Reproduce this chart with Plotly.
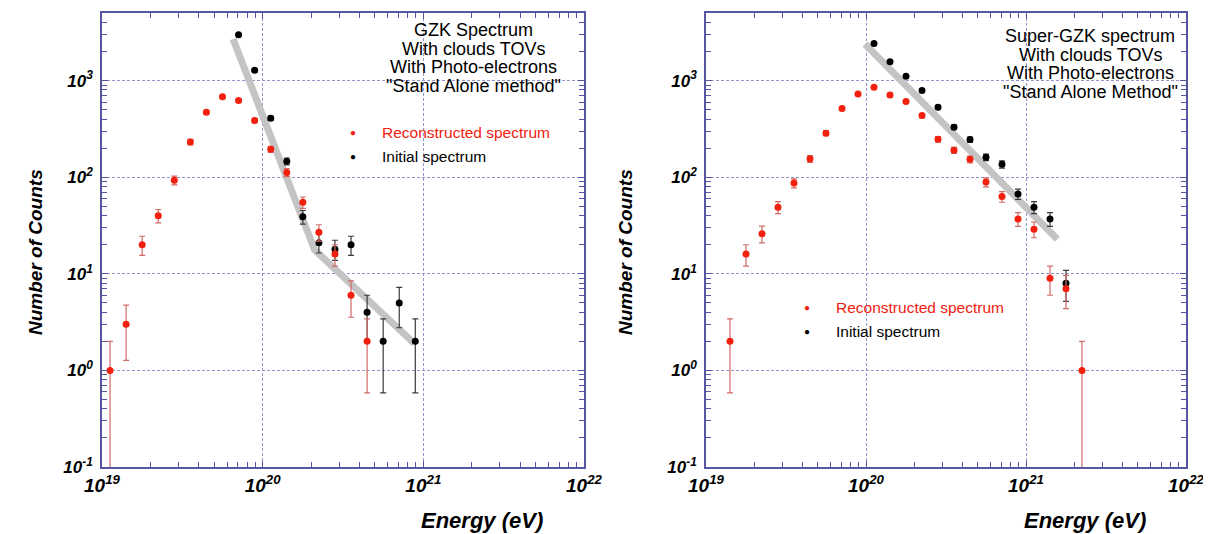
import numpy as np
import plotly.graph_objects as go

# ---------------- data ----------------
# left panel: GZK spectrum (log10 energy bin centres, counts)
gzk_rec_logE = [19.05, 19.15, 19.25, 19.35, 19.45, 19.55, 19.65, 19.75, 19.85,
                19.95, 20.05, 20.15, 20.25, 20.35, 20.45, 20.55, 20.65]
gzk_rec_N = [1, 3, 20, 40, 93, 231, 471, 680, 622, 387, 195, 112, 55, 27, 16, 6, 2]
gzk_ini_logE = [19.85, 19.95, 20.05, 20.15, 20.25, 20.35, 20.45, 20.55, 20.65,
                20.75, 20.85, 20.95]
gzk_ini_N = [2980, 1277, 408, 146, 39, 21, 18, 20, 4, 2, 5, 2]
gzk_fit_logE = [19.816, 20.323, 20.944]
gzk_fit_N = [2690, 17.7, 1.9]

# right panel: Super-GZK spectrum
sgzk_rec_logE = [19.15, 19.25, 19.35, 19.45, 19.55, 19.65, 19.75, 19.85, 19.95,
                 20.05, 20.15, 20.25, 20.35, 20.45, 20.55, 20.65, 20.75, 20.85,
                 20.95, 21.05, 21.15, 21.25, 21.35]
sgzk_rec_N = [2, 16, 26, 49, 87, 155, 286, 514, 728, 853, 711, 607, 435, 247,
              190, 153, 89, 63, 37, 29, 9, 7, 1]
sgzk_ini_logE = [20.05, 20.15, 20.25, 20.35, 20.45, 20.55, 20.65, 20.75, 20.85,
                 20.95, 21.05, 21.15, 21.25]
sgzk_ini_N = [2427, 1571, 1108, 789, 531, 330, 245, 161, 136, 67, 49, 37, 8]
sgzk_fit_logE = [19.994, 21.196]
sgzk_fit_N = [2390, 22.8]

x_tick_exp = [19, 20, 21, 22]
y_tick_exp = [-1, 0, 1, 2, 3]
minor_mult = [2, 3, 4, 5, 6, 7, 8, 9]

panel_titles = [
    ["GZK Spectrum", "With clouds TOVs", "With Photo-electrons", "\"Stand Alone method\""],
    ["Super-GZK spectrum", "With clouds TOVs", "With Photo-electrons", "\"Stand Alone Method\""],
]
legend_labels = ["Reconstructed spectrum", "Initial spectrum"]

# ---------------- styling ----------------
RED = "#f2200f"
RED_ERR = "#cf6a66"
BLACK = "#000000"
BLACK_ERR = "#3a3a3a"
AXIS = "#5656a0"
GRID = "#9494cc"
FIT = "#c4c4c4"
FONT = "Liberation Sans, Arial, Helvetica, sans-serif"

W, H = 1211, 534
OFF = 8  # page body margin of the html output


def px(xp):
    return (xp - OFF) / W


def py(yp):
    return 1 - (yp - OFF) / H


def pow10(vals):
    return [float(10.0 ** float(v)) for v in vals]


def minor_vals(exps):
    out = []
    for k in exps[:-1]:
        for m in minor_mult:
            out.append(float(m) * float(10.0 ** float(k)))
    return out


def errs(vals):
    v = np.asarray(vals, dtype=float)
    e = np.sqrt(v)
    em = np.minimum(e, v * 0.999)
    return e.tolist(), em.tolist()


fig = go.Figure()

panels = [
    dict(rec=(gzk_rec_logE, gzk_rec_N), ini=(gzk_ini_logE, gzk_ini_N),
         fit=(gzk_fit_logE, gzk_fit_N), xa="x", ya="y"),
    dict(rec=(sgzk_rec_logE, sgzk_rec_N), ini=(sgzk_ini_logE, sgzk_ini_N),
         fit=(sgzk_fit_logE, sgzk_fit_N), xa="x2", ya="y2"),
]

for p in panels:
    fx, fy = p["fit"]
    fig.add_trace(go.Scatter(x=pow10(fx), y=fy, mode="lines",
                             line=dict(color=FIT, width=7), xaxis=p["xa"], yaxis=p["ya"],
                             showlegend=False, hoverinfo="skip"))
    ix, iy = p["ini"]
    e, em = errs(iy)
    fig.add_trace(go.Scatter(x=pow10(ix), y=iy, mode="markers",
                             marker=dict(color=BLACK, size=7),
                             error_y=dict(type="data", array=e, arrayminus=em, symmetric=False,
                                          color=BLACK_ERR, thickness=1.2, width=3),
                             xaxis=p["xa"], yaxis=p["ya"], showlegend=False))
    rx, ry = p["rec"]
    e, em = errs(ry)
    fig.add_trace(go.Scatter(x=pow10(rx), y=ry, mode="markers",
                             marker=dict(color=RED, size=7),
                             error_y=dict(type="data", array=e, arrayminus=em, symmetric=False,
                                          color=RED_ERR, thickness=1.2, width=3),
                             xaxis=p["xa"], yaxis=p["ya"], showlegend=False))

x_ticktext = ["<b><i>10<sup>%d</sup></i></b>" % k for k in x_tick_exp]
y_ticktext = ["<b><i>10<sup>%d</sup></i></b>" % k for k in y_tick_exp]

ydom = [py(467), py(13)]
xdoms = [[px(102), px(584)], [px(706), px(1186)]]


def axis_common():
    return dict(type="log", automargin=False,
                showline=True, linecolor=AXIS, linewidth=1.5, mirror="allticks",
                ticks="inside", ticklen=6, tickcolor=AXIS,
                showgrid=True, gridcolor=GRID, griddash="3px,2px", gridwidth=1,
                zeroline=False)


def xaxis_cfg(dom, anchor):
    d = axis_common()
    d.update(range=[19, 22], domain=dom, anchor=anchor,
             tickmode="array", tickvals=pow10(x_tick_exp), ticktext=x_ticktext,
             tickfont=dict(family=FONT, size=19, color="black"),
             minor=dict(tickmode="array", tickvals=minor_vals(x_tick_exp), ticks="inside",
                        ticklen=5, tickcolor=AXIS, showgrid=False))
    return d


def yaxis_cfg(anchor):
    d = axis_common()
    d.update(range=[-1, 3.7], domain=ydom, anchor=anchor,
             tickmode="array", tickvals=pow10(y_tick_exp), ticktext=y_ticktext,
             tickfont=dict(family=FONT, size=17, color="black"), ticklabelstandoff=4,
             minor=dict(tickmode="array", tickvals=minor_vals(y_tick_exp + [4]), ticks="inside",
                        ticklen=5, tickcolor=AXIS, showgrid=False))
    return d


annotations = []
title_cx = [473, 1090]
title_y0 = [30, 36]
legend_dot_x = [353, 807]
legend_y0 = [132, 307]
ylabel_x = [35, 625]
xlabel_cx = [482, 1085]

for i in range(2):
    for j, line in enumerate(panel_titles[i]):
        annotations.append(dict(x=px(title_cx[i]), y=py(title_y0[i] + j * 18.6),
                                xref="paper", yref="paper", text=line, showarrow=False,
                                xanchor="center", yanchor="middle",
                                font=dict(family=FONT, size=18, color="black")))
    for j, (lab, col) in enumerate(zip(legend_labels, [RED, BLACK])):
        yy = py(legend_y0[i] + j * 24)
        annotations.append(dict(x=px(legend_dot_x[i]), y=yy, xref="paper", yref="paper",
                                text="●", showarrow=False, xanchor="center", yanchor="middle",
                                font=dict(family=FONT, size=10, color=col)))
        annotations.append(dict(x=px(legend_dot_x[i] + 27), y=yy, xref="paper", yref="paper",
                                text=lab, showarrow=False, xanchor="left", yanchor="middle",
                                font=dict(family=FONT, size=15.5, color=col)))
    annotations.append(dict(x=px(ylabel_x[i]), y=py(252), xref="paper", yref="paper",
                            text="<b><i>Number of Counts</i></b>", textangle=-90,
                            showarrow=False, xanchor="center", yanchor="middle",
                            font=dict(family=FONT, size=19, color="black")))
    annotations.append(dict(x=px(xlabel_cx[i]), y=py(520), xref="paper", yref="paper",
                            text="<b><i>Energy (eV)</i></b>", showarrow=False,
                            xanchor="center", yanchor="middle",
                            font=dict(family=FONT, size=22, color="black")))

fig.update_layout(
    width=W, height=H, margin=dict(l=0, r=0, t=0, b=0, autoexpand=False),
    paper_bgcolor="white", plot_bgcolor="white", showlegend=False,
    xaxis=xaxis_cfg(xdoms[0], "y"), yaxis=yaxis_cfg("x"),
    xaxis2=xaxis_cfg(xdoms[1], "y2"), yaxis2=yaxis_cfg("x2"),
    annotations=annotations,
)

fig.write_html("out.html")
